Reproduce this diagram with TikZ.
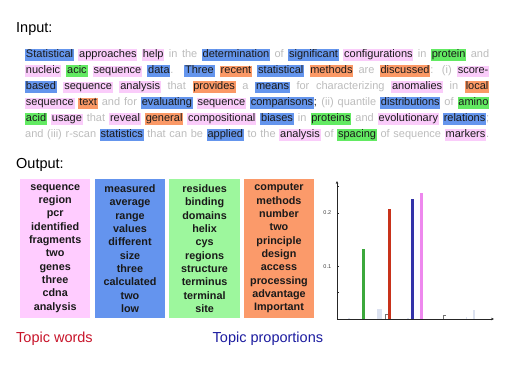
\documentclass[tikz,border=0pt]{standalone}
\usepackage{fontspec}
\setmainfont{Liberation Sans}
\usetikzlibrary{arrows.meta}
\definecolor{hb}{HTML}{6495ED}
\definecolor{hp}{HTML}{FACCFA}
\definecolor{hg}{HTML}{62EA62}
\definecolor{ho}{HTML}{FB9966}
\definecolor{bp}{HTML}{FFCCFF}
\definecolor{bb}{HTML}{6494EE}
\definecolor{bg}{HTML}{9DF79D}
\definecolor{bo}{HTML}{FB9A6A}
\definecolor{gtext}{HTML}{BDBDBD}
\definecolor{txt}{HTML}{1A1A1A}
\definecolor{tred}{HTML}{C8142A}
\definecolor{tblue}{HTML}{1C1CA0}
\definecolor{barG}{HTML}{3CA83C}
\definecolor{barR}{HTML}{C8321A}
\definecolor{barB}{HTML}{3333A8}
\definecolor{barV}{HTML}{EE88EE}
\definecolor{barF}{HTML}{DCE2F0}
\hbadness=10000
\newcommand\hw[2]{{\setlength\fboxsep{0.8pt}\colorbox{#1}{\color{txt}\rule[-3pt]{0pt}{10pt}#2}}}
\newcommand\hB[1]{\hw{hb}{#1}}
\newcommand\hP[1]{\hw{hp}{#1}}
\newcommand\hG[1]{\hw{hg}{#1}}
\newcommand\hO[1]{\hw{ho}{#1}}
\tikzset{
  pline/.style={anchor=base west, inner sep=0pt, text=gtext, font=\fontsize{11}{13}\selectfont},
  head/.style={anchor=west, inner sep=0pt, font=\fontsize{14.5}{16}\selectfont},
  topicbox/.style={minimum width=70.5pt, minimum height=139pt, inner sep=0pt, align=center,
    text=txt, font=\bfseries\fontsize{10.8}{13.33}\selectfont},
  ticklab/.style={inner sep=0pt, font=\fontsize{5.5}{6}\selectfont, text=black!75},
  axis/.style={line width=0.6pt, draw=black!85, -{Stealth[length=3pt,width=2.6pt]}}
}
\begin{document}
\begin{tikzpicture}[x=1pt,y=-1pt]
\useasboundingbox (0,0) rectangle (515,386);
\fill[white] (0,0) rectangle (515,386);
% headings
\node[head] (input) at (16,29) {Input:};
\node[head] (output) at (16,165) {Output:};
% paragraph
\node[pline] (l1) at (25,57.5) {\hbox to 464pt{\hB{Statistical} \hP{approaches} \hP{help} in the \hB{determination} of \hB{significant} \hP{configurations} in \hG{protein} and}};
\node[pline] (l2) at (25,73.5) {\hbox to 464pt{\hP{nucleic} \hG{acic} \hP{sequence} \hB{data}. \hB{Three} \hO{recent} \hB{statistical} \hO{methods} are \hO{discussed}: (i) \hP{score-}}};
\node[pline] (l3) at (25,89.5) {\hbox to 464pt{\hB{based} \hP{sequence} \hP{analysis} that \hO{provides} a \hB{means} for characterizing \hP{anomalies} in \hO{local}}};
\node[pline] (l4) at (25,105.5) {\hbox to 464pt{\hP{sequence} \hO{text} and for \hB{evaluating} \hP{sequence} \hB{comparisons}{\color{txt};} (ii) quantile \hB{distributions} of \hG{amino}}};
\node[pline] (l5) at (25,121.5) {\hbox to 464pt{\hG{acid} \hP{usage} that \hP{reveal} \hO{general} \hP{compositional} \hB{biases} in \hG{proteins} and \hP{evolutionary} \hB{relations};}};
\node[pline] (l6) at (25,137.5) {\hbox to 464pt{and (iii) r-scan \hB{statistics} that can be \hB{applied} to the \hP{analysis} of \hG{spacing} of sequence \hP{markers}.}};
% topic boxes
\node[topicbox, fill=bp] (k1) at (55.2,248.5) {sequence\\region\\pcr\\identified\\fragments\\two\\genes\\three\\cdna\\analysis};
\node[topicbox, fill=bb] (k2) at (130,248.5) {measured\\average\\range\\values\\different\\size\\three\\calculated\\two\\low};
\node[topicbox, fill=bg] (k3) at (204.6,248.5) {residues\\binding\\domains\\helix\\cys\\regions\\structure\\terminus\\terminal\\site};
\node[topicbox, fill=bo] (k4) at (279,248.5) {computer\\methods\\number\\two\\principle\\design\\access\\processing\\advantage\\Important};
% chart
\coordinate (o) at (337,319);
\coordinate (ytop) at (337,181);
\coordinate (xend) at (494,319);
\fill[barF] (348,319) rectangle (350,317.5);
\fill[barF] (376.5,319) rectangle (382,309);
\draw[black!55, line width=0.4pt] (385.3,319) -- (385.3,314.5) -- (387.5,314.5);
\fill[barF] (407,319) rectangle (409,317.5);
\draw[black!55, line width=0.4pt] (443.3,319) -- (443.3,315.5) -- (445.5,315.5);
\fill[barF] (465.5,319) rectangle (466.5,317);
\fill[barF] (472.5,319) rectangle (475,309.5);
\fill[barG] (362.3,319) rectangle (365.2,249);
\fill[barR] (387.8,319) rectangle (390.8,209);
\fill[barB] (411,319) rectangle (414,199);
\fill[barV] (420,319) rectangle (423,192.5);
\draw[axis] (o) -- (ytop);
\draw[axis] (o) -- (xend);
\foreach \yy in {186,213,266,292} \draw[black!85, line width=0.5pt] (337,\yy) -- (338.6,\yy);
\node[ticklab] (t2) at (327.3,213) {0.2};
\node[ticklab] (t1) at (327.3,266.5) {0.1};
% bottom labels
\node[head, text=tred] (tw) at (16,339) {Topic words};
\node[head, text=tblue] (tp) at (212.5,339) {Topic proportions};
\end{tikzpicture}
\end{document}
